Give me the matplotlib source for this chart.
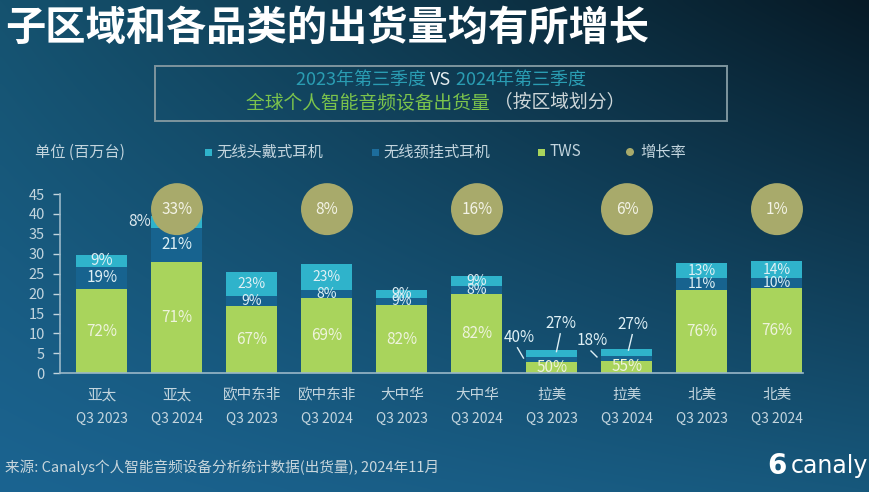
import numpy as np
import matplotlib
matplotlib.use("Agg")
import matplotlib.pyplot as plt
from matplotlib.patches import Rectangle, Ellipse
from matplotlib.colors import to_rgb

plt.rcParams['font.family'] = ['Noto Sans CJK SC', 'DejaVu Sans']

# ---------------- data ----------------
regions = ['亚太', '亚太', '欧中东非', '欧中东非', '大中华', '大中华', '拉美', '拉美', '北美', '北美']
quarters = ['Q3 2023', 'Q3 2024'] * 5
tws = [21.2, 28.0, 17.0, 18.9, 17.1, 19.9, 2.9, 3.2, 21.0, 21.3]
neck = [5.6, 8.5, 2.4, 2.0, 1.9, 2.1, 1.25, 1.2, 2.9, 2.5]
head = [2.8, 3.0, 6.0, 6.6, 1.9, 2.3, 1.7, 1.8, 3.8, 4.3]
tws_lbl = ['72%', '71%', '67%', '69%', '82%', '82%', '50%', '55%', '76%', '76%']
neck_lbl = ['19%', '21%', '9%', '8%', '9%', '8%', '40%', '18%', '11%', '10%']
head_lbl = ['9%', '8%', '23%', '23%', '9%', '9%', '27%', '27%', '13%', '14%']
growth_idx = [1, 3, 5, 7, 9]
growth_lbl = ['33%', '8%', '16%', '6%', '1%']
yticks = [0, 5, 10, 15, 20, 25, 30, 35, 40, 45]

# ---------------- style ----------------
W, H = 870, 492
C_TWS = '#a9d45c'
C_NECK = '#17638f'
C_HEAD = '#2fb3cb'
C_BUB = '#a8aa6b'
C_AX = '#c3d5de'

fig = plt.figure(figsize=(W / 100, H / 100), dpi=100)

# background gradient
bg = fig.add_axes([0, 0, 1, 1], zorder=-10)
bg.set_axis_off()
ny, nx = 100, 174
yy, xx = np.mgrid[0:1:ny * 1j, 0:1:nx * 1j]
tl = np.array(to_rgb('#15526f'))
tr = np.array(to_rgb('#071a26'))
bl = np.array(to_rgb('#1b6491'))
br = np.array(to_rgb('#17587c'))
img = ((1 - xx)[..., None] * (1 - yy)[..., None] * tl + xx[..., None] * (1 - yy)[..., None] * tr
       + (1 - xx)[..., None] * yy[..., None] * bl + xx[..., None] * yy[..., None] * br)
bg.imshow(np.clip(img, 0, 1), aspect='auto', extent=[0, 1, 1, 0], interpolation='bicubic')
bg.set_xlim(0, 1)
bg.set_ylim(1, 0)


def fx(px):
    return px / W


def fy(py):
    return 1 - py / H


# title
fig.text(fx(5), fy(29), '子区域和各品类的出货量均有所增长', color='white', fontsize=29,
         fontweight='bold', ha='left', va='center')

# subtitle box
fig.patches.append(Rectangle((fx(155), fy(121)), fx(727) - fx(155), fy(66) - fy(121),
                             transform=fig.transFigure, fill=False, edgecolor='#7e959e', lw=1.4))

renderer = fig.canvas.get_renderer()


def colored_line(xc, yc, segs, size):
    texts = []
    widths = []
    for s, c in segs:
        t = fig.text(0, fy(yc), s, color=c, fontsize=size, ha='left', va='center')
        bb = t.get_window_extent(renderer=renderer)
        texts.append(t)
        widths.append(bb.width)
    total = sum(widths)
    x = xc - total / 2
    for t, w in zip(texts, widths):
        t.set_x(fx(x))
        x += w


colored_line(441, 80, [('2023年第三季度 ', '#2a9db3'), ('VS', '#e6eef0'), (' 2024年第三季度', '#2a9db3')], 13)
colored_line(436, 103, [('全球个人智能音频设备出货量 ', '#7cc44c'), ('（按区域划分）', '#cdd6d8')], 13.5)

# legend row
fig.text(fx(35), fy(152), '单位 (百万台)', color=C_AX, fontsize=11, ha='left', va='center')
leg = [(205, C_HEAD, '无线头戴式耳机'), (372, '#1d6d9c', '无线颈挂式耳机'), (538, C_TWS, 'TWS')]
for x, c, s in leg:
    fig.patches.append(Rectangle((fx(x), fy(156)), 7 / W, 7 / H, transform=fig.transFigure,
                                 facecolor=c, edgecolor='none'))
    fig.text(fx(x + 11), fy(152), s, color=C_AX, fontsize=11, ha='left', va='center')
fig.patches.append(Ellipse((fx(630), fy(152)), 8 / W, 8 / H, transform=fig.transFigure,
                           facecolor=C_BUB, edgecolor='none'))
fig.text(fx(640), fy(152), '增长率', color=C_AX, fontsize=11, ha='left', va='center')

# chart axes
ax = fig.add_axes([fx(60), fy(373.3), fx(803) - fx(60), fy(194) - fy(373.3)])
ax.set_facecolor('none')
x = np.arange(len(tws))
bw = 0.68
tws_a = np.array(tws)
neck_a = np.array(neck)
head_a = np.array(head)
ax.bar(x, tws_a, bw, color=C_TWS, zorder=2)
ax.bar(x, neck_a, bw, bottom=tws_a, color=C_NECK, zorder=2)
ax.bar(x, head_a, bw, bottom=tws_a + neck_a, color=C_HEAD, zorder=2)

ax.set_xlim(-0.56, 9.347)
ax.set_ylim(0, 45)
ax.set_yticks(yticks)
ax.set_yticklabels([str(v) for v in yticks])
ax.tick_params(axis='y', colors=C_AX, labelsize=10.5, length=5, width=1, pad=6)
ax.set_xticks([])
for sp in ['top', 'right']:
    ax.spines[sp].set_visible(False)
for sp in ['left', 'bottom']:
    ax.spines[sp].set_color('#9ab8c8')
    ax.spines[sp].set_linewidth(1.2)

lbl_kw = dict(ha='center', va='center', zorder=5)
for i in range(len(tws)):
    ax.text(x[i], tws_a[i] / 2, tws_lbl[i], color='#eef3dc', fontsize=11, **lbl_kw)
    if i in (6, 7):
        continue
    nc = tws_a[i] + neck_a[i] / 2
    hc = tws_a[i] + neck_a[i] + head_a[i] / 2
    small = neck_a[i] < 3.2
    fs = 10 if small else 11
    if i == 1:
        ax.text(x[i] - 0.5, hc, head_lbl[i], color='#dce8ee', fontsize=11, **lbl_kw)
    else:
        ax.text(x[i], hc, head_lbl[i], color='#dff0f5', fontsize=fs, **lbl_kw)
    ax.text(x[i], nc, neck_lbl[i], color='#dff0f5', fontsize=fs, **lbl_kw)

# Latin America external labels with leader lines
for i, (nxo, nyo, hxo, hyo) in zip((6, 7), [(-0.44, 9.0, 0.12, 12.5), (-0.46, 8.2, 0.08, 12.3)]):
    nc = tws_a[i] + neck_a[i] / 2
    top = tws_a[i] + neck_a[i] + head_a[i]
    ax.text(x[i] + nxo, nyo, neck_lbl[i], color='#dff0f5', fontsize=11, **lbl_kw)
    ax.plot([x[i] + nxo - 0.02, x[i] + nxo + 0.06], [nyo - 2.6, nc + 0.3], color='#dff0f5', lw=1, zorder=5)
    ax.text(x[i] + hxo, hyo, head_lbl[i], color='#dff0f5', fontsize=11, **lbl_kw)
    ax.plot([x[i] + hxo - 0.01, x[i] + hxo - 0.06], [hyo - 2.6, top - 0.4], color='#dff0f5', lw=1, zorder=5)

# growth bubbles
gx = [x[i] for i in growth_idx]
ax.scatter(gx, [41.2] * len(gx), s=1400, color=C_BUB, edgecolors='none', zorder=6, clip_on=False)
for xi, s in zip(gx, growth_lbl):
    ax.text(xi, 41.2, s, color='#f3f3e6', ha='center', va='center', fontsize=11, zorder=7)

# x category labels
for i in range(len(tws)):
    ax.annotate(regions[i], xy=(x[i], 0), xycoords=('data', 'axes fraction'),
                xytext=(0, -22 * 0.72), textcoords='offset points', ha='center', va='center',
                color=C_AX, fontsize=10.5, annotation_clip=False)
    ax.annotate(quarters[i], xy=(x[i], 0), xycoords=('data', 'axes fraction'),
                xytext=(0, -45.5 * 0.72), textcoords='offset points', ha='center', va='center',
                color=C_AX, fontsize=10, annotation_clip=False)

# footer
fig.text(fx(5), fy(467), '来源: Canalys个人智能音频设备分析统计数据(出货量), 2024年11月',
         color='#c8d6dc', fontsize=10.5, ha='left', va='center')

# logo
fig.text(fx(868), fy(466), 'canaly', color='white', fontsize=17, ha='right', va='center',
         family=['DejaVu Sans'])
fig.text(fx(777), fy(466), '6', color='white', fontsize=20, fontweight='bold', ha='center',
         va='center', family=['DejaVu Sans'])

fig.savefig('out.png', dpi=100)
